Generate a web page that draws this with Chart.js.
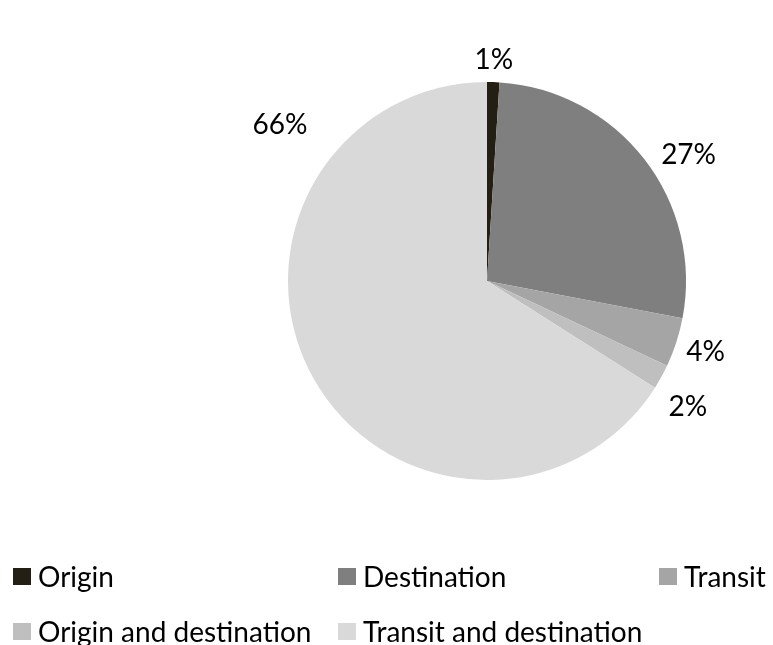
<!DOCTYPE html>
<html>
<head>
<meta charset="utf-8">
<script src="https://cdn.jsdelivr.net/npm/chart.js@4/dist/chart.umd.min.js"></script>
<style>
  html, body { margin: 0; padding: 0; background: #fff; }
  #wrap { position: relative; width: 773px; height: 645px; }
  #legend {
    position: absolute; left: 13px; top: 560px;
    display: grid; grid-template-columns: 325px 321px auto;
    row-gap: 23px;
    font-family: Lato, "Open Sans", sans-serif; font-size: 28px; color: #000;
  }
  .item { display: flex; align-items: center; height: 32px; white-space: nowrap; }
  .box { width: 18px; height: 17px; margin-right: 7px; }
</style>
</head>
<body>
<div id="wrap">
  <canvas id="chartShare" width="773" height="645"></canvas>
  <div id="legend"></div>
</div>
<script>
const categories = ["Origin", "Destination", "Transit", "Origin and destination", "Transit and destination"];
const shares = [1, 27, 4, 2, 66];
const colors = ["#241f15", "#7f7f7f", "#a5a5a5", "#bfbfbf", "#d9d9d9"];

// label placement tweaks (degrees clockwise from top / extra radial gap), null = slice middle
const labelAngle = [null, 58, null, 122, 307];
const labelExtra = [0, 0, 0, 6, 22];

// percent labels outside each slice
const outsideLabels = {
  id: "outsideLabels",
  afterDatasetsDraw(chart) {
    const ctx = chart.ctx;
    const meta = chart.getDatasetMeta(0);
    ctx.save();
    ctx.font = "28px Lato";
    ctx.fillStyle = "#000";
    ctx.textAlign = "center";
    ctx.textBaseline = "middle";
    meta.data.forEach((arc, i) => {
      const p = arc.getProps(["x", "y", "startAngle", "endAngle", "outerRadius"], true);
      let a = (p.startAngle + p.endAngle) / 2;
      if (labelAngle[i] !== null) a = (labelAngle[i] - 90) * Math.PI / 180;
      const ux = Math.cos(a), uy = Math.sin(a);
      const txt = shares[i] + "%";
      const w = ctx.measureText(txt).width;
      const h = 28;
      const d = p.outerRadius + 8 + labelExtra[i] + (w / 2) * Math.abs(ux) + (h / 2) * Math.abs(uy);
      ctx.fillText(txt, p.x + ux * d, p.y + uy * d);
    });
    ctx.restore();
  }
};

new Chart(document.getElementById("chartShare"), {
  type: "pie",
  data: {
    labels: categories,
    datasets: [{ data: shares, backgroundColor: colors, borderWidth: 0 }]
  },
  options: {
    responsive: false,
    animation: false,
    layout: { padding: { left: 288, right: 87, top: 82, bottom: 165 } },
    plugins: { legend: { display: false }, tooltip: { enabled: false } }
  },
  plugins: [outsideLabels]
});

const legend = document.getElementById("legend");
categories.forEach((name, i) => {
  const item = document.createElement("div");
  item.className = "item";
  item.innerHTML = '<span class="box" style="background:' + colors[i] + '"></span>' + name;
  legend.appendChild(item);
});
</script>
</body>
</html>
